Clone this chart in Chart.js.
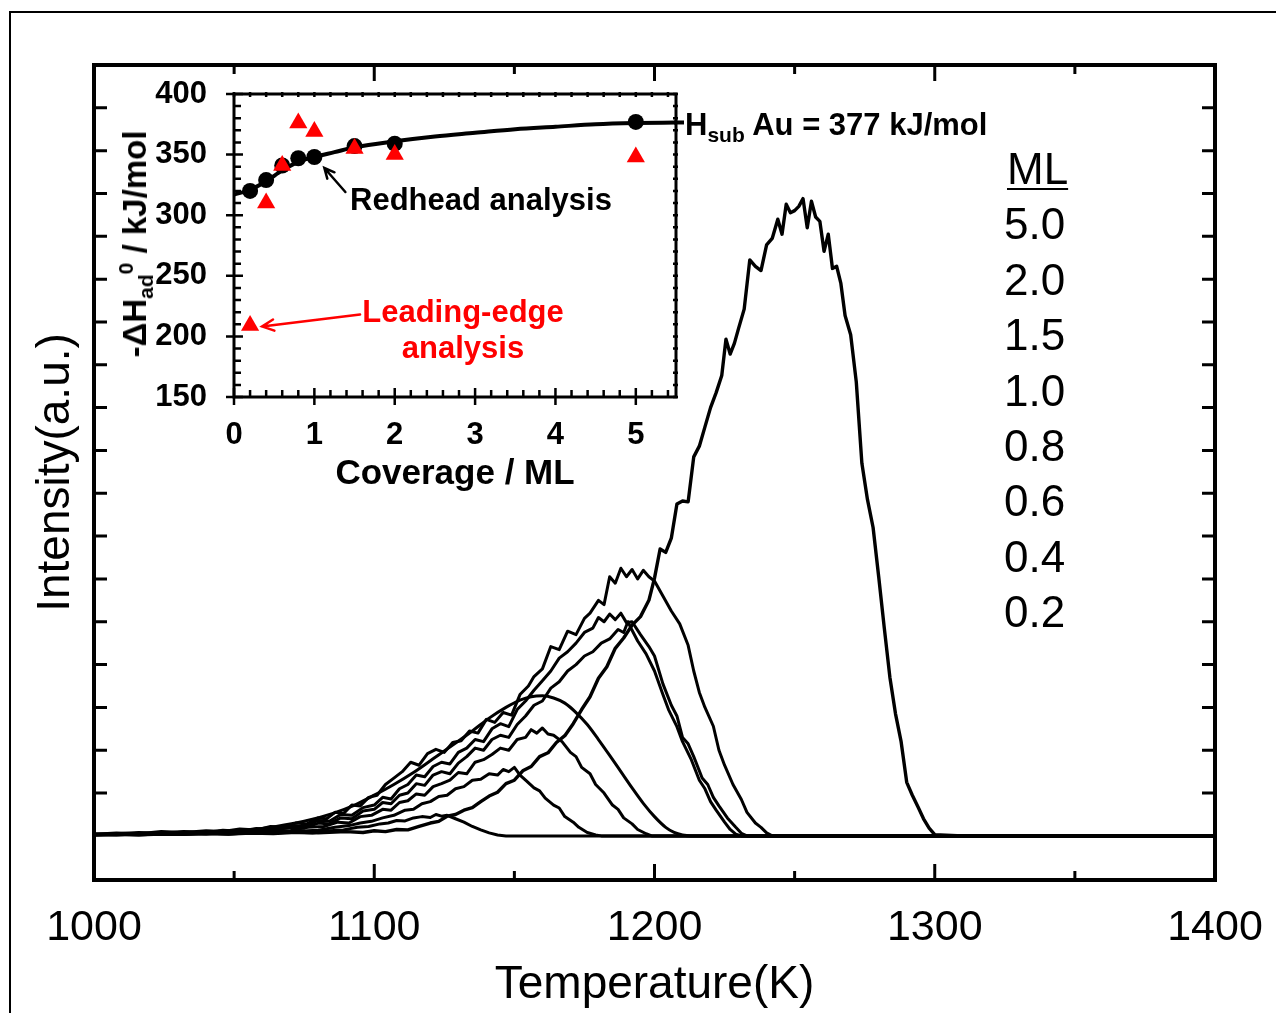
<!DOCTYPE html>
<html><head><meta charset="utf-8">
<script src="https://cdn.jsdelivr.net/npm/chart.js@4.4.1/dist/chart.umd.min.js"></script>
<style>
html,body{margin:0;padding:0;background:#fff;width:1276px;height:1013px;overflow:hidden;position:relative;}
#frame{position:absolute;left:9px;top:11px;width:1300px;height:1100px;border:2px solid #000;box-sizing:border-box;}
#main{position:absolute;left:0;top:0;}
#inset{position:absolute;left:100px;top:70px;}
.t{position:absolute;font-family:'Liberation Sans',Arial,sans-serif;color:#000;white-space:nowrap;}
.b{font-weight:bold;}
.t sub,.t sup{line-height:0;font-size:21px;}
.t sub{vertical-align:-7px;}
.t sup{vertical-align:13px;}
</style></head>
<body>
<div id="frame"></div>
<canvas id="main" width="1276" height="1013"></canvas>
<canvas id="inset" width="620" height="440"></canvas>
<div class="t b" style="left:135px;top:244px;font-size:33px;line-height:36px;transform:translate(-50%,-50%) rotate(-90deg);">-ΔH<sub>ad</sub><sup>0</sup> / kJ/mol</div>
<div class="t b" style="left:685px;top:107px;font-size:31px;line-height:36px;">H<sub>sub</sub> Au = 377 kJ/mol</div>
<div class="t b" style="left:350px;top:182px;font-size:31px;line-height:36px;">Redhead analysis</div>
<div class="t b" style="left:463px;top:294px;font-size:31px;line-height:36px;color:#f00;text-align:center;transform:translateX(-50%);">Leading-edge<br>analysis</div>
<div id="legend" class="t" style="left:1004px;top:141px;font-size:44px;line-height:55.4px;"></div>
<script>
// ---------------- data ----------------
const LEGEND_TITLE = 'ML';
const LEGEND_ML = ['5.0','2.0','1.5','1.0','0.8','0.6','0.4','0.2'];

const X_TICK_VALUES = [1000,1050,1100,1150,1200,1250,1300,1350,1400];
const X_TICK_LABELS = [1000,1100,1200,1300,1400];
const Y_TICK_VALUES = [1,2,3,4,5,6,7,8,9,10,11,12,13,14,15,16,17];

// TPD curves: [temperature K, intensity a.u.]
const S50 = [[1000,0.03],[1010,0.05],[1020,0.04],[1030,0.06],[1040,0.05],[1050,0.08],[1060,0.06],[1070,0.09],[1080,0.07],[1090,0.1],[1096,0.08],[1100,0.12],[1104,0.1],[1108,0.15],[1112,0.14],[1116,0.22],[1120,0.3],[1123,0.34],[1126,0.46],[1129,0.5],[1132,0.6],[1135,0.66],[1138,0.8],[1141,0.93],[1144,1.02],[1147,1.22],[1150,1.3],[1153,1.52],[1156,1.62],[1159,1.85],[1162,1.94],[1165,2.18],[1168,2.34],[1171,2.62],[1174,2.95],[1177,3.25],[1180,3.68],[1183,3.95],[1186,4.38],[1189,4.62],[1192,4.92],[1195,5.12],[1198,5.5],[1200,6.02],[1202,6.7],[1204,6.62],[1206,6.95],[1208,7.75],[1210,7.82],[1212,7.8],[1214,8.85],[1216,9.1],[1218,9.55],[1220,10.0],[1222,10.35],[1224,10.75],[1225.5,11.6],[1227,11.25],[1228.5,11.5],[1230,11.85],[1232,12.3],[1234,13.45],[1236,13.3],[1238,13.2],[1240,13.8],[1242,13.95],[1244,14.4],[1245.5,14.05],[1247,14.75],[1248.5,14.55],[1250,14.6],[1251.5,14.7],[1253,14.88],[1254.5,14.2],[1256,14.82],[1257.5,14.45],[1259,14.35],[1260.5,13.65],[1262,14.05],[1263.5,13.25],[1265,13.3],[1266.5,12.9],[1268,12.15],[1270,11.7],[1272,10.6],[1274,8.7],[1276,7.85],[1278,7.2],[1280,6.05],[1282,4.85],[1284,3.7],[1286,2.85],[1288,2.2],[1290,1.25],[1292,0.95],[1294,0.68],[1296,0.4],[1298,0.18],[1300,0.03],[1310,0],[1400,0]];
const S20 = [[1000,0.04],[1008,0.07],[1016,0.05],[1024,0.1],[1032,0.08],[1040,0.12],[1046,0.1],[1052,0.16],[1058,0.14],[1063,0.22],[1068,0.2],[1072,0.3],[1076,0.28],[1080,0.42],[1083,0.4],[1086,0.55],[1089,0.52],[1092,0.72],[1095,0.7],[1098,0.9],[1101,0.95],[1104,1.2],[1107,1.35],[1110,1.5],[1113,1.72],[1116,1.65],[1119,1.92],[1122,2.02],[1125,1.95],[1128,2.18],[1131,2.22],[1134,2.45],[1137,2.4],[1140,2.72],[1143,2.65],[1146,2.88],[1149,2.82],[1152,3.3],[1155,3.5],[1157,3.72],[1160,3.9],[1163,4.42],[1166,4.35],[1169,4.78],[1172,4.7],[1175,5.08],[1177,5.2],[1180,5.5],[1182,5.4],[1184,6.05],[1186,5.9],[1188,6.25],[1190,6.05],[1192,6.22],[1194,6.0],[1196,6.2],[1198,6.05],[1200,5.95],[1203,5.6],[1206,5.25],[1209,4.95],[1212,4.45],[1214,3.85],[1216,3.35],[1218,3.0],[1221,2.56],[1223,2.0],[1225,1.65],[1228,1.2],[1231,0.85],[1233,0.55],[1236,0.3],[1238,0.2],[1240,0.07],[1242,0],[1400,0]];
const S15 = [[1000,0.03],[1008,0.05],[1016,0.08],[1024,0.06],[1032,0.1],[1040,0.08],[1046,0.13],[1052,0.11],[1058,0.17],[1064,0.15],[1070,0.24],[1075,0.22],[1080,0.36],[1084,0.34],[1088,0.5],[1092,0.48],[1096,0.66],[1100,0.72],[1103,0.9],[1106,0.86],[1109,1.1],[1112,1.2],[1115,1.42],[1118,1.38],[1121,1.62],[1124,1.72],[1127,1.68],[1130,1.95],[1133,2.05],[1136,2.25],[1139,2.2],[1142,2.5],[1145,2.62],[1148,2.55],[1151,2.95],[1154,3.15],[1157,3.4],[1160,3.62],[1163,3.85],[1166,4.15],[1169,4.3],[1172,4.5],[1175,4.75],[1178,4.85],[1180,5.1],[1182,5.0],[1184,5.18],[1186,5.05],[1188,5.2],[1190,4.98],[1192,5.0],[1195,4.7],[1198,4.42],[1200,4.2],[1203,3.55],[1206,3.05],[1208,2.8],[1210,2.3],[1212,2.15],[1214,1.85],[1217,1.35],[1219,1.2],[1221,0.9],[1223,0.7],[1226,0.42],[1229,0.2],[1231,0.06],[1233,0],[1400,0]];
const S10 = [[1000,0.05],[1008,0.03],[1016,0.06],[1024,0.05],[1032,0.09],[1040,0.07],[1046,0.12],[1052,0.1],[1058,0.15],[1064,0.13],[1070,0.2],[1075,0.18],[1080,0.3],[1084,0.28],[1088,0.42],[1092,0.4],[1096,0.58],[1100,0.62],[1103,0.78],[1106,0.75],[1109,0.95],[1112,1.0],[1115,1.22],[1118,1.18],[1121,1.42],[1124,1.5],[1127,1.45],[1130,1.7],[1133,1.85],[1136,2.05],[1139,2.0],[1142,2.25],[1145,2.35],[1148,2.3],[1151,2.6],[1154,2.8],[1157,3.05],[1160,3.15],[1163,3.45],[1166,3.6],[1169,3.85],[1172,4.0],[1175,4.2],[1178,4.3],[1181,4.5],[1184,4.6],[1187,4.82],[1189,4.75],[1190.5,5.0],[1192,4.8],[1194,4.55],[1197,4.25],[1200,3.85],[1203,3.3],[1205,2.95],[1208,2.55],[1210,2.2],[1213,1.8],[1216,1.3],[1218,1.1],[1220,0.8],[1222,0.6],[1225,0.32],[1227,0.15],[1229,0.04],[1231,0],[1400,0]];
const S08 = [[1000,0.02],[1020,0.04],[1040,0.08],[1055,0.14],[1065,0.22],[1075,0.34],[1085,0.52],[1093,0.72],[1100,0.95],[1107,1.2],[1114,1.48],[1121,1.8],[1128,2.12],[1135,2.45],[1141,2.75],[1147,3.0],[1152,3.17],[1156,3.25],[1160,3.27],[1164,3.22],[1168,3.1],[1172,2.88],[1176,2.6],[1180,2.25],[1184,1.88],[1188,1.5],[1192,1.12],[1196,0.76],[1200,0.45],[1204,0.2],[1207,0.08],[1210,0.02],[1213,0],[1400,0]];
const S06 = [[1000,0.03],[1008,0.02],[1016,0.05],[1024,0.03],[1032,0.06],[1040,0.05],[1048,0.09],[1056,0.08],[1063,0.13],[1070,0.12],[1076,0.2],[1082,0.22],[1087,0.32],[1091,0.3],[1095,0.45],[1099,0.48],[1103,0.62],[1106,0.6],[1109,0.78],[1112,0.82],[1115,0.98],[1118,0.95],[1121,1.15],[1124,1.22],[1127,1.3],[1130,1.48],[1133,1.45],[1136,1.72],[1139,1.78],[1142,1.9],[1145,2.05],[1148,2.0],[1151,2.25],[1154,2.3],[1156,2.48],[1158,2.4],[1160,2.52],[1162,2.38],[1164,2.35],[1167,2.2],[1170,1.95],[1172,1.85],[1174,1.6],[1177,1.45],[1179,1.2],[1182,1.0],[1185,0.72],[1187,0.62],[1189,0.42],[1192,0.28],[1194,0.15],[1197,0.05],[1199,0],[1400,0]];
const S04 = [[1000,0.02],[1008,0.04],[1016,0.02],[1024,0.05],[1032,0.03],[1040,0.06],[1048,0.04],[1056,0.08],[1064,0.07],[1072,0.11],[1080,0.13],[1086,0.2],[1091,0.24],[1095,0.3],[1099,0.34],[1103,0.42],[1107,0.48],[1111,0.6],[1114,0.62],[1117,0.75],[1120,0.8],[1123,0.92],[1126,0.95],[1129,1.1],[1132,1.15],[1135,1.3],[1138,1.32],[1141,1.45],[1144,1.42],[1146,1.55],[1148,1.5],[1150,1.6],[1152,1.42],[1154,1.3],[1157,1.12],[1159,1.05],[1161,0.88],[1164,0.72],[1166,0.65],[1168,0.45],[1171,0.32],[1173,0.2],[1176,0.08],[1179,0.02],[1181,0],[1400,0]];
const S02 = [[1000,0.02],[1008,0.03],[1016,0.02],[1024,0.04],[1032,0.03],[1040,0.05],[1048,0.04],[1056,0.06],[1064,0.05],[1072,0.08],[1078,0.07],[1084,0.12],[1089,0.14],[1094,0.2],[1098,0.22],[1102,0.28],[1105,0.3],[1108,0.36],[1111,0.35],[1114,0.42],[1117,0.45],[1120,0.43],[1122,0.5],[1124,0.46],[1126,0.48],[1129,0.4],[1132,0.32],[1135,0.22],[1138,0.14],[1141,0.07],[1144,0.02],[1147,0],[1400,0]];

// Inset: adsorption enthalpy vs coverage
const COVERAGE     = [0.2, 0.4, 0.6, 0.8, 1.0, 1.5, 2.0, 5.0];
const REDHEAD      = [320, 329, 341, 347, 348, 357, 359, 377];
const LEADING_EDGE = [209, 310, 341, 376, 369, 355, 350, 348];
const FIT_X = [0, 0.2, 0.4, 0.6, 0.8, 1.0, 1.25, 1.5, 2.0, 2.5, 3.0, 3.5, 4.0, 4.5, 5.0, 5.5];
const FIT_Y = [317, 321, 328, 337, 344, 348, 352, 356, 361, 365, 368, 371, 373, 375, 376, 376.5];
const INSET_X_LABELS = [0, 1, 2, 3, 4, 5];
const INSET_Y_LABELS = [150, 200, 250, 300, 350, 400];

// ---------------- drawing ----------------
const RED = '#ff0000';
const FONT = "'Liberation Sans', Arial, sans-serif";
Chart.defaults.font.family = FONT;
Chart.defaults.color = '#000';

const leg = document.getElementById('legend');
leg.innerHTML = '<span style="text-decoration:underline;text-decoration-thickness:2px;text-underline-offset:4px;margin-left:3px">' + LEGEND_TITLE + '</span><br>' + LEGEND_ML.join('<br>');

const mainAxes = {
  id: 'mainAxes',
  afterDatasetsDraw(chart) {
    const {ctx, chartArea: a, scales: {x, y}} = chart;
    ctx.save();
    ctx.strokeStyle = '#000';
    ctx.lineWidth = 3;
    ctx.beginPath();
    x.ticks.forEach(t => {
      const px = x.getPixelForValue(t.value);
      if (px <= a.left + 2 || px >= a.right - 2) return;
      const L = X_TICK_LABELS.includes(t.value) ? 16 : 9;
      ctx.moveTo(px, a.bottom); ctx.lineTo(px, a.bottom - L);
      ctx.moveTo(px, a.top); ctx.lineTo(px, a.top + L);
    });
    y.ticks.forEach(t => {
      const py = y.getPixelForValue(t.value);
      ctx.moveTo(a.left, py); ctx.lineTo(a.left + 13, py);
      ctx.moveTo(a.right, py); ctx.lineTo(a.right - 13, py);
    });
    ctx.stroke();
    ctx.lineWidth = 4;
    ctx.strokeRect(a.left, a.top, a.right - a.left, a.bottom - a.top);
    ctx.restore();
  }
};

const SERIES = [
  {name: '5.0', pts: S50}, {name: '2.0', pts: S20}, {name: '1.5', pts: S15}, {name: '1.0', pts: S10},
  {name: '0.8', pts: S08, smooth: true}, {name: '0.6', pts: S06}, {name: '0.4', pts: S04}, {name: '0.2', pts: S02}
];

new Chart(document.getElementById('main'), {
  type: 'line',
  data: {
    datasets: SERIES.map(s => ({
      label: s.name,
      data: s.pts.map(p => ({x: p[0], y: p[1]})),
      borderColor: '#000', backgroundColor: '#000',
      borderWidth: s.name === '5.0' ? 3.4 : 3,
      pointRadius: 0, fill: false,
      tension: s.smooth ? 0.4 : 0,
      cubicInterpolationMode: s.smooth ? 'monotone' : 'default',
      borderJoinStyle: 'round'
    }))
  },
  options: {
    responsive: false, animation: false, devicePixelRatio: 1,
    layout: {padding: {left: 0, top: 65, right: 61, bottom: 0}},
    plugins: {legend: {display: false}, tooltip: {enabled: false}},
    scales: {
      x: {
        type: 'linear', position: 'bottom', min: 1000, max: 1400,
        afterBuildTicks: s => { s.ticks = X_TICK_VALUES.map(v => ({value: v})); },
        ticks: {autoSkip: false, maxRotation: 0, padding: 22, font: {size: 43},
                callback: v => X_TICK_LABELS.includes(v) ? String(v) : ''},
        grid: {display: false, drawTicks: false}, border: {display: false},
        title: {display: true, text: 'Temperature(K)', font: {size: 46}, padding: {top: 0, bottom: 0}},
        afterFit: s => { s.height = 133; s.paddingLeft = 0; s.paddingRight = 0; }
      },
      y: {
        type: 'linear', min: -1.03, max: 18,
        afterBuildTicks: s => { s.ticks = Y_TICK_VALUES.map(v => ({value: v})); },
        ticks: {display: false},
        grid: {display: false, drawTicks: false}, border: {display: false},
        title: {display: true, text: 'Intensity(a.u.)', font: {size: 46}, padding: {top: 29, bottom: 0}},
        afterFit: s => { s.width = 94; s.paddingTop = 0; s.paddingBottom = 0; }
      }
    }
  },
  plugins: [mainAxes]
});

function arrow(ctx, from, to, color, lw, len) {
  ctx.save();
  ctx.strokeStyle = color; ctx.lineWidth = lw; ctx.lineCap = 'round';
  ctx.beginPath();
  ctx.moveTo(from[0], from[1]); ctx.lineTo(to[0], to[1]);
  const ang = Math.atan2(from[1] - to[1], from[0] - to[0]);
  const w = 0.45;
  ctx.moveTo(to[0] + len * Math.cos(ang + w), to[1] + len * Math.sin(ang + w));
  ctx.lineTo(to[0], to[1]);
  ctx.lineTo(to[0] + len * Math.cos(ang - w), to[1] + len * Math.sin(ang - w));
  ctx.stroke();
  ctx.restore();
}

const insetAxes = {
  id: 'insetAxes',
  afterDatasetsDraw(chart) {
    const {ctx, chartArea: a, scales: {x, y}} = chart;
    ctx.save();
    ctx.strokeStyle = '#000';
    ctx.lineWidth = 2.5;
    ctx.beginPath();
    y.ticks.forEach(t => {
      const py = y.getPixelForValue(t.value);
      if (INSET_Y_LABELS.includes(t.value)) { ctx.moveTo(a.left - 8, py); ctx.lineTo(a.left + 9, py); }
      else { ctx.moveTo(a.left, py); ctx.lineTo(a.left + 7, py); }
      ctx.moveTo(a.right - 3, py); ctx.lineTo(a.right + 2, py);
    });
    x.ticks.forEach(t => {
      const px = x.getPixelForValue(t.value);
      if (INSET_X_LABELS.includes(t.value)) { ctx.moveTo(px, a.bottom + 8); ctx.lineTo(px, a.bottom - 9); }
      else { ctx.moveTo(px, a.bottom); ctx.lineTo(px, a.bottom - 7); }
      ctx.moveTo(px, a.top - 2); ctx.lineTo(px, a.top + 3);
    });
    ctx.stroke();
    ctx.lineWidth = 3;
    ctx.strokeRect(a.left, a.top, a.right - a.left, a.bottom - a.top);
    const yEnd = y.getPixelForValue(FIT_Y[FIT_Y.length - 1]);
    ctx.lineWidth = 4;
    ctx.beginPath(); ctx.moveTo(a.right - 2, yEnd); ctx.lineTo(a.right + 8, yEnd); ctx.stroke();
    ctx.restore();
    const t1 = [x.getPixelForValue(1.0) + 10, y.getPixelForValue(348) + 11];
    arrow(ctx, [t1[0] + 21, t1[1] + 24], t1, '#000', 2.5, 11);
    const t2 = [x.getPixelForValue(0.2) + 12, y.getPixelForValue(209) + 1];
    arrow(ctx, [t2[0] + 98, t2[1] - 12], t2, RED, 2.5, 13);
  }
};

const INSET_X_STEPS = []; for (let i = 0; i <= 27; i++) INSET_X_STEPS.push(Math.round(i * 2) / 10);
const INSET_Y_STEPS = []; for (let v = 150; v <= 400; v += 10) INSET_Y_STEPS.push(v);

new Chart(document.getElementById('inset'), {
  type: 'scatter',
  data: {
    datasets: [
      {label: 'Leading-edge analysis', data: COVERAGE.map((c, i) => ({x: c, y: LEADING_EDGE[i]})),
       pointStyle: 'triangle', pointRadius: 10.5, backgroundColor: RED, borderColor: RED, borderWidth: 0, showLine: false},
      {label: 'Redhead analysis', data: COVERAGE.map((c, i) => ({x: c, y: REDHEAD[i]})),
       pointStyle: 'circle', pointRadius: 8, backgroundColor: '#000', borderColor: '#000', borderWidth: 0, showLine: false},
      {label: 'fit', data: FIT_X.map((c, i) => ({x: c, y: FIT_Y[i]})), showLine: true, pointRadius: 0,
       borderColor: '#000', borderWidth: 4, cubicInterpolationMode: 'monotone', tension: 0.4}
    ]
  },
  options: {
    responsive: false, animation: false, devicePixelRatio: 1,
    layout: {padding: {left: 0, top: 24, right: 44, bottom: 0}},
    plugins: {legend: {display: false}, tooltip: {enabled: false}},
    scales: {
      x: {
        type: 'linear', min: 0, max: 5.5,
        afterBuildTicks: s => { s.ticks = INSET_X_STEPS.map(v => ({value: v})); },
        ticks: {autoSkip: false, maxRotation: 0, padding: 20, font: {size: 31, weight: 'bold'},
                callback: v => INSET_X_LABELS.includes(v) ? String(v) : ''},
        grid: {display: false, drawTicks: false}, border: {display: false},
        title: {display: true, text: 'Coverage / ML', font: {size: 35, weight: 'bold'}, padding: {top: 0, bottom: 15}},
        afterFit: s => { s.height = 113; s.paddingLeft = 0; s.paddingRight = 0; }
      },
      y: {
        type: 'linear', min: 150, max: 400,
        afterBuildTicks: s => { s.ticks = INSET_Y_STEPS.map(v => ({value: v})); },
        ticks: {autoSkip: false, padding: 27, font: {size: 31, weight: 'bold'},
                callback: v => INSET_Y_LABELS.includes(v) ? String(v) : ''},
        grid: {display: false, drawTicks: false}, border: {display: false},
        afterFit: s => { s.width = 134; s.paddingTop = 0; s.paddingBottom = 0; }
      }
    }
  },
  plugins: [insetAxes]
});
</script>
</body></html>
